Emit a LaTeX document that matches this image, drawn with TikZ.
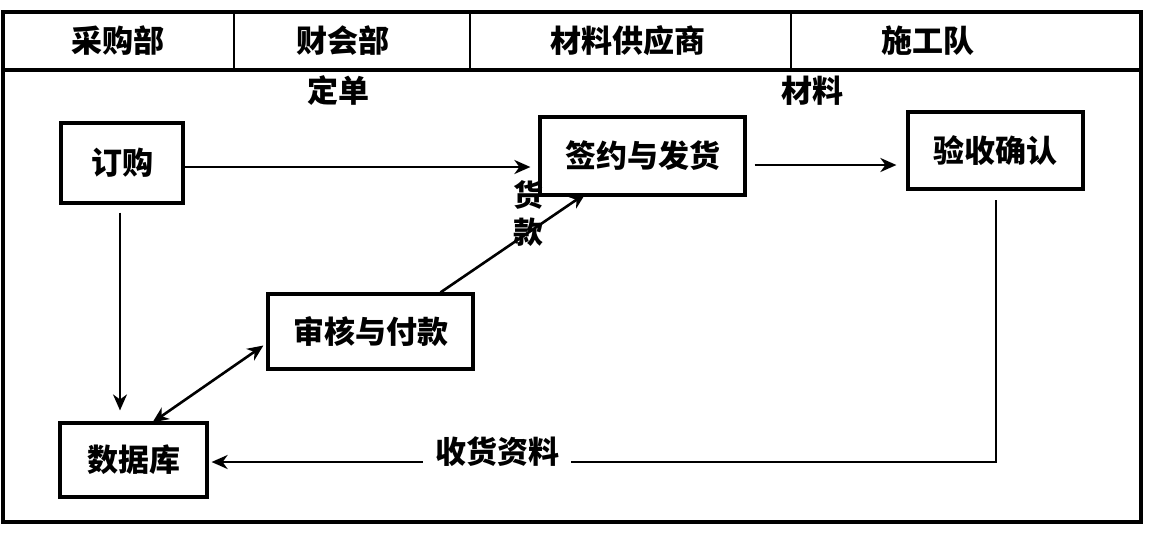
\documentclass[tikz,border=0pt]{standalone}
\usepackage{fontspec}
\setmainfont{Noto Sans CJK SC}
\usetikzlibrary{arrows.meta}
\begin{document}
\begin{tikzpicture}[x=0.5pt,y=-0.5pt,
  every node/.style={font=\fontsize{15.5pt}{18pt}\selectfont\bfseries},
  frame/.style={draw,line width=1.7pt},
  box/.style={draw,line width=1.6pt,rectangle,inner sep=0pt},
  arr/.style={line width=1.3pt,-{Stealth[length=8pt,width=7pt,inset=2.5pt]}},
  darr/.style={line width=1.3pt,{Stealth[length=8pt,width=7pt,inset=2.5pt]}-{Stealth[length=8pt,width=7pt,inset=2.5pt]}},
  lbl/.style={inner sep=1pt}]
\useasboundingbox (0,0) rectangle (1152,532);
% frame and header
\draw[frame] (3,12) rectangle (1141,522);
\draw[frame] (3,70) -- (1141,70);
\draw[line width=1.3pt] (234,12) -- (234,70);
\draw[line width=1.3pt] (470,12) -- (470,70);
\draw[line width=1.3pt] (791,12) -- (791,70);
\node[lbl] (h1) at (118,41) {采购部};
\node[lbl] (h2) at (343,41) {财会部};
\node[lbl] (h3) at (628,41) {材料供应商};
\node[lbl] (h4) at (928,41) {施工队};
% boxes
\node[box,minimum width=61pt,minimum height=40pt] (dg) at (122,163) {订购};
\node[box,minimum width=102.5pt,minimum height=39pt] (qy) at (642.5,156) {签约与发货};
\node[box,minimum width=87.5pt,minimum height=38.5pt] (ys) at (995.5,150.5) {验收确认};
\node[box,minimum width=102.5pt,minimum height=37.5pt] (sh) at (370.5,331.5) {审核与付款};
\node[box,minimum width=73.5pt,minimum height=37pt] (sj) at (133.5,460) {数据库};
% labels
\node[lbl] (l1) at (338,91) {定单};
\node[lbl] (l2) at (812,91) {材料};
\node[lbl,align=center,font=\fontsize{15pt}{18.5pt}\selectfont\bfseries] (l3) at (528,214) {货\\款};
% connectors
\draw[arr] ([yshift=-2pt]dg.east) -- ([yshift=-2pt,xshift=-4pt]dg.east -| qy.west);
\draw[arr] ([xshift=4pt,yshift=-4.5pt]qy.east) -- ([xshift=-5pt,yshift=-4.5pt]qy.east -| ys.west);
\draw[arr,line width=1pt] ([xshift=-1pt,yshift=-4pt]dg.south) -- ([xshift=-1pt]dg.south |- sj.north) [shorten >=5.5pt];
\draw[darr] ([xshift=9.5pt,yshift=-0.5pt]sj.north) -- ([xshift=-1.5pt,yshift=-7pt]sh.west);
\draw[arr] ([xshift=35pt]sh.north) -- ([xshift=-28.5pt,yshift=1.5pt]qy.south);
\coordinate (c1) at (996,200);
\draw[arr] (c1) |- ([xshift=1.5pt,yshift=-1pt]sj.east);
\node[lbl,fill=white,inner xsep=6pt] (l4) at (497,452) {收货资料};
\end{tikzpicture}
\end{document}
